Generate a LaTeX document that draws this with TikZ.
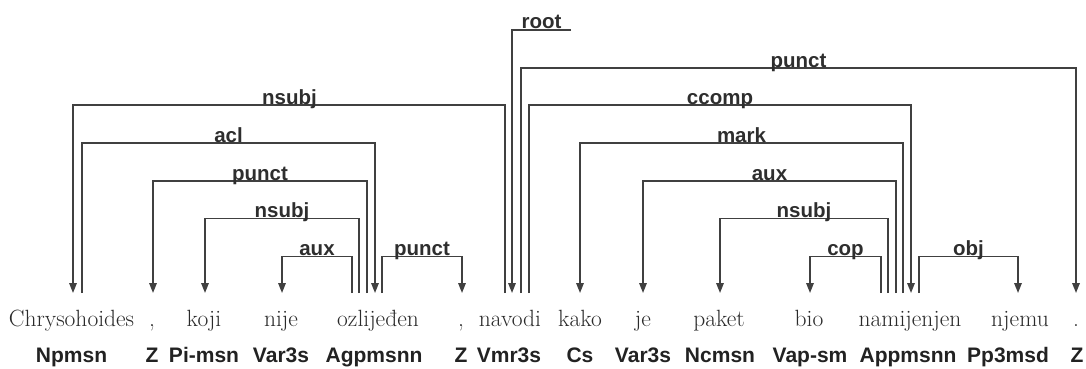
\documentclass[tikz,border=0pt]{standalone}
\usepackage{fontspec}
\newfontfamily\lblfont{Liberation Sans}
\usetikzlibrary{arrows.meta}
\definecolor{linec}{HTML}{404040}
\definecolor{wordc}{HTML}{2A2A2A}
\definecolor{tagc}{HTML}{222222}
\definecolor{lblc}{HTML}{2E2E2E}
\tikzset{
  word/.style={anchor=base, inner sep=0pt, text=wordc, font=\fontsize{23.5}{26}\selectfont},
  tag/.style={anchor=base, inner sep=0pt, text=tagc, font=\lblfont\bfseries\fontsize{21}{24}\selectfont},
  lbl/.style={anchor=base, inner sep=0pt, yshift=1pt, text=lblc, font=\lblfont\bfseries\fontsize{20.5}{24}\selectfont},
  edge/.style={draw=linec, line width=1.6pt, -{Triangle[length=10pt,width=7.5pt]}},
}
\begin{document}
\begin{tikzpicture}[x=1pt,y=-1pt]
\useasboundingbox (0,0) rectangle (1086,369);
% words
\node[word] (w1) at (71.5,326) {Chrysohoides};
\node[word] (w2) at (152,326) {,};
\node[word] (w3) at (204,326) {koji};
\node[word] (w4) at (281,326) {nije};
\node[word] (w5) at (378,326) {ozlijeđen};
\node[word] (w6) at (461,326) {,};
\node[word] (w7) at (510,326) {navodi};
\node[word] (w8) at (580,326) {kako};
\node[word] (w9) at (643,326) {je};
\node[word] (w10) at (719,326) {paket};
\node[word] (w11) at (809,326) {bio};
\node[word] (w12) at (910,326) {namijenjen};
\node[word] (w13) at (1020,326) {njemu};
\node[word] (w14) at (1076,326) {.};
% tags
\node[tag] (t1) at (71.5,362) {Npmsn};
\node[tag] (t2) at (152,362) {Z};
\node[tag] (t3) at (204,362) {Pi-msn};
\node[tag] (t4) at (281,362) {Var3s};
\node[tag] (t5) at (374,362) {Agpmsnn};
\node[tag] (t6) at (461,362) {Z};
\node[tag] (t7) at (509,362) {Vmr3s};
\node[tag] (t8) at (580,362) {Cs};
\node[tag] (t9) at (643,362) {Var3s};
\node[tag] (t10) at (720,362) {Ncmsn};
\node[tag] (t11) at (810,362) {Vap-sm};
\node[tag] (t12) at (908,362) {Appmsnn};
\node[tag] (t13) at (1008,362) {Pp3msd};
\node[tag] (t14) at (1077,362) {Z};
% ports
\coordinate (p1a) at (73,293);  \coordinate (p1b) at (82,293);
\coordinate (p2a) at (153,293);
\coordinate (p3a) at (205,293);
\coordinate (p4a) at (282,293);
\coordinate (p5a) at (352,293); \coordinate (p5b) at (359,293);
\coordinate (p5c) at (367,293); \coordinate (p5d) at (375,293);
\coordinate (p5e) at (382,293);
\coordinate (p6a) at (462,293);
\coordinate (p7a) at (505,293); \coordinate (p7b) at (512,293);
\coordinate (p7c) at (521,293); \coordinate (p7d) at (529,293);
\coordinate (p8a) at (580,293);
\coordinate (p9a) at (643,293);
\coordinate (p10a) at (720,293);
\coordinate (p11a) at (810,293);
\coordinate (p12a) at (881,293); \coordinate (p12b) at (888,293);
\coordinate (p12c) at (896,293); \coordinate (p12d) at (903,293);
\coordinate (p12e) at (911,293); \coordinate (p12f) at (919,293);
\coordinate (p13a) at (1018,293);
\coordinate (p14a) at (1076,293);
% edge midpoints
\coordinate (m1) at (289.5,105);
\coordinate (m2) at (228.5,143);
\coordinate (m3) at (260,181);
\coordinate (m4) at (282,218.5);
\coordinate (m5) at (317,256.5);
\coordinate (m6) at (422,256.5);
\coordinate (m7) at (798.5,68);
\coordinate (m8) at (720,105);
\coordinate (m9) at (741.5,143);
\coordinate (m10) at (769.5,181);
\coordinate (m11) at (804,218.5);
\coordinate (m12) at (845.5,256.5);
\coordinate (m13) at (968.5,256.5);
\coordinate (rootend) at (571,30);
\coordinate (rootm) at (541.5,30);
% edges
\draw[edge] (p7a) |- (m1) -| (p1a);
\draw[edge] (p1b) |- (m2) -| (p5d);
\draw[edge] (p5c) |- (m3) -| (p2a);
\draw[edge] (p5b) |- (m4) -| (p3a);
\draw[edge] (p5a) |- (m5) -| (p4a);
\draw[edge] (p5e) |- (m6) -| (p6a);
\draw[edge] (p7c) |- (m7) -| (p14a);
\draw[edge] (p7d) |- (m8) -| (p12e);
\draw[edge] (p12d) |- (m9) -| (p8a);
\draw[edge] (p12c) |- (m10) -| (p9a);
\draw[edge] (p12b) |- (m11) -| (p10a);
\draw[edge] (p12a) |- (m12) -| (p11a);
\draw[edge] (p12f) |- (m13) -| (p13a);
\draw[edge] (rootend) -| (p7b);
% labels
\node[lbl] (l1) at (m1) {nsubj};
\node[lbl] (l2) at (m2) {acl};
\node[lbl] (l3) at (m3) {punct};
\node[lbl] (l4) at (m4) {nsubj};
\node[lbl] (l5) at (m5) {aux};
\node[lbl] (l6) at (m6) {punct};
\node[lbl] (l7) at (m7) {punct};
\node[lbl] (l8) at (m8) {ccomp};
\node[lbl] (l9) at (m9) {mark};
\node[lbl] (l10) at (m10) {aux};
\node[lbl] (l11) at (m11) {nsubj};
\node[lbl] (l12) at (m12) {cop};
\node[lbl] (l13) at (m13) {obj};
\node[lbl] (l14) at (rootm) {root};
\end{tikzpicture}
\end{document}
